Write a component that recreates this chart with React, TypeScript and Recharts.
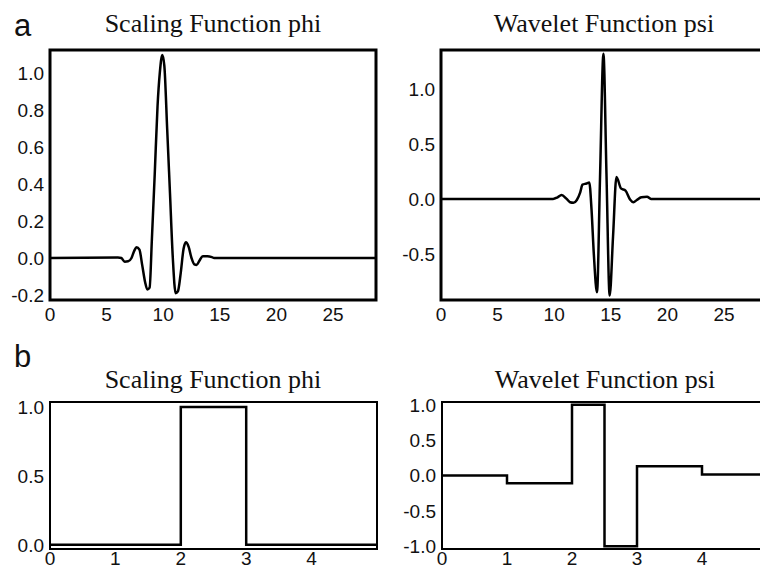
import React from "react";
import { LineChart, Line, XAxis, YAxis, ReferenceArea } from "recharts";

// panel a: continuous scaling / wavelet functions
const phiX = [0, 6.0, 6.3, 6.6, 6.9, 7.2, 7.45, 7.65, 7.9, 8.15, 8.4, 8.6, 8.8, 9.0, 9.25, 9.5, 9.7, 9.92, 10.1, 10.35, 10.6, 10.85, 11.1, 11.3, 11.55, 11.8, 12.0, 12.25, 12.5, 12.75, 12.95, 13.2, 13.5, 13.9, 14.3, 14.5, 28.8];
const phiY = [0, 0.003, 0.0, -0.02, -0.018, 0.0, 0.04, 0.058, 0.045, -0.04, -0.13, -0.17, -0.16, 0.1, 0.45, 0.82, 1.0, 1.097, 1.04, 0.7, 0.35, 0.0, -0.19, -0.18, -0.08, 0.05, 0.085, 0.06, 0.0, -0.035, -0.038, -0.015, 0.01, 0.01, 0.005, 0, 0];

const psiX = [0, 9.9, 10.3, 10.65, 11.1, 11.4, 11.7, 12.0, 12.3, 12.5, 12.85, 13.1, 13.3, 13.5, 13.78, 14.05, 14.35, 14.62, 14.9, 15.2, 15.5, 15.9, 16.3, 16.7, 17.0, 17.3, 17.7, 18.2, 18.55, 28.8];
const psiY = [0, 0, 0.015, 0.036, 0.0, -0.03, -0.035, -0.01, 0.06, 0.13, 0.14, 0.15, -0.1, -0.5, -0.85, 0.2, 1.32, 0.22, -0.88, -0.34, 0.2, 0.095, 0.075, -0.005, -0.03, -0.01, 0.015, 0.02, 0.0, 0];

// panel b: Haar functions (step)
const haarPhiX = [0, 2, 3, 5];
const haarPhiY = [0, 1, 0, 0];
const haarPsiX = [0, 1, 2, 2.5, 3, 4, 5];
const haarPsiY = [0, -0.11, 1, -1, 0.13, 0.015, 0.015];

const xTicksA = [0, 5, 10, 15, 20, 25];
const xTicksB = [0, 1, 2, 3, 4];
const yTicksPhiA = [-0.2, 0, 0.2, 0.4, 0.6, 0.8, 1.0];
const yTicksPsiA = [-0.5, 0, 0.5, 1.0];
const yTicksPhiB = [0, 0.5, 1.0];
const yTicksPsiB = [-1.0, -0.5, 0, 0.5, 1.0];

const toRows = (xs: number[], ys: number[]) => xs.map((x, i) => ({ x, v: ys[i] }));

const tickStyle = { fill: "#111", fontSize: 19, fontFamily: "'Liberation Sans', Arial, sans-serif" };
const serif = "'Liberation Serif', 'Times New Roman', serif";
const sans = "'Liberation Sans', Arial, sans-serif";

interface PanelProps {
  left: number;
  top: number;
  width: number;
  height: number;
  data: { x: number; v: number }[];
  xDomain: [number, number];
  yDomain: [number, number];
  xTicks: number[];
  yTicks: number[];
  step?: boolean;
  border: number;
  xMargin: number;
}

function Panel({ left, top, width, height, data, xDomain, yDomain, xTicks, yTicks, step, border, xMargin }: PanelProps) {
  return (
    <div style={{ position: "absolute", left, top }}>
      <LineChart width={width} height={height} data={data} margin={{ top: 50, right: 4, bottom: 0, left: 0 }}>
        <XAxis
          dataKey="x"
          type="number"
          domain={xDomain}
          ticks={xTicks}
          interval={0}
          allowDataOverflow
          tickLine={false}
          axisLine={false}
          tickSize={0}
          tickMargin={xMargin}
          tick={tickStyle}
          height={25}
        />
        <YAxis
          type="number"
          domain={yDomain}
          ticks={yTicks}
          interval={0}
          allowDataOverflow
          tickLine={false}
          axisLine={false}
          tickSize={0}
          tickMargin={6}
          tick={tickStyle}
          tickFormatter={(v) => Number(v).toFixed(1)}
          width={50}
        />
        <ReferenceArea
          x1={xDomain[0]}
          x2={xDomain[1]}
          y1={yDomain[0]}
          y2={yDomain[1]}
          fill="none"
          stroke="#000"
          strokeWidth={border}
        />
        <Line
          dataKey="v"
          type={step ? "stepAfter" : "monotone"}
          stroke="#000"
          strokeWidth={2.5}
          dot={false}
          isAnimationActive={false}
        />
      </LineChart>
    </div>
  );
}

function Title({ left, top, text }: { left: number; top: number; text: string }) {
  return (
    <div
      style={{
        position: "absolute",
        left,
        top,
        width: 326,
        textAlign: "center",
        fontFamily: serif,
        fontSize: 26,
        lineHeight: "26px",
        color: "#111",
        whiteSpace: "nowrap",
      }}
    >
      {text}
    </div>
  );
}

function Tag({ top, text }: { top: number; text: string }) {
  return (
    <div style={{ position: "absolute", left: 14, top, fontFamily: sans, fontSize: 31, lineHeight: "31px", color: "#111" }}>
      {text}
    </div>
  );
}

export default function App() {
  return (
    <div style={{ position: "absolute", left: 0, top: 0, width: 760, height: 570, overflow: "hidden", background: "#fff" }}>
      <Tag top={10} text="a" />
      <Tag top={341} text="b" />
      <Title left={50} top={11} text="Scaling Function phi" />
      <Title left={441} top={11} text="Wavelet Function psi" />
      <Title left={50} top={367} text="Scaling Function phi" />
      <Title left={442} top={367} text="Wavelet Function psi" />
      <Panel
        left={0}
        top={0}
        width={380}
        height={325}
        data={toRows(phiX, phiY)}
        xDomain={[0, 28.8]}
        yDomain={[-0.227, 1.124]}
        xTicks={xTicksA}
        yTicks={yTicksPhiA}
        border={3}
        xMargin={8}
      />
      <Panel
        left={391}
        top={0}
        width={380}
        height={325}
        data={toRows(psiX, psiY)}
        xDomain={[0, 28.8]}
        yDomain={[-0.92, 1.355]}
        xTicks={xTicksA}
        yTicks={yTicksPsiA}
        border={3}
        xMargin={8}
      />
      <Panel
        left={0}
        top={352}
        width={381}
        height={222}
        data={toRows(haarPhiX, haarPhiY)}
        xDomain={[0, 5]}
        yDomain={[-0.03, 1.036]}
        xTicks={xTicksB}
        yTicks={yTicksPhiB}
        step
        border={2}
        xMargin={3}
      />
      <Panel
        left={392}
        top={352}
        width={379}
        height={222}
        data={toRows(haarPsiX, haarPsiY)}
        xDomain={[0, 5]}
        yDomain={[-1.04, 1.04]}
        xTicks={xTicksB}
        yTicks={yTicksPsiB}
        step
        border={2}
        xMargin={3}
      />
    </div>
  );
}
